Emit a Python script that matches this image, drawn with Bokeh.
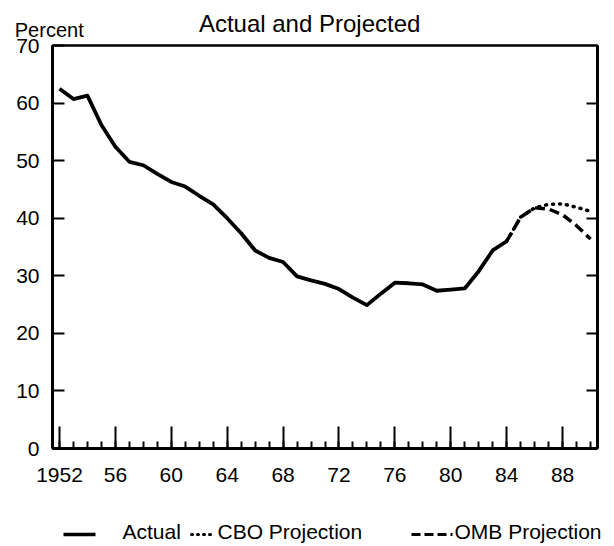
from bokeh.plotting import figure
from bokeh.models import Range1d, FixedTicker, LinearAxis, ColumnDataSource, Label
from bokeh.layouts import column
from bokeh.core.properties import value
from bokeh.embed import file_html
from bokeh.resources import INLINE

# ---------------- data ----------------
actual_years = list(range(1952, 1985))
actual_vals = [62.5, 60.7, 61.3, 56.2, 52.4, 49.8, 49.2, 47.7, 46.3, 45.5,
               43.9, 42.4, 40.0, 37.4, 34.4, 33.1, 32.4, 29.9, 29.2, 28.6,
               27.7, 26.2, 24.9, 26.9, 28.8, 28.7, 28.5, 27.4, 27.6, 27.8,
               30.8, 34.4, 36.0]
proj_years = list(range(1984, 1991))
cbo_vals = [36.0, 40.2, 41.8, 42.4, 42.5, 41.9, 41.2]
omb_vals = [36.0, 40.2, 41.8, 41.6, 40.6, 38.7, 36.4]

x_major = [1952, 1956, 1960, 1964, 1968, 1972, 1976, 1980, 1984, 1988]
x_labels = ["1952", "56", "60", "64", "68", "72", "76", "80", "84", "88"]
x_minor = list(range(1952, 1991))
y_ticks = [0, 10, 20, 30, 40, 50, 60, 70]
y_right_ticks = [10, 20, 30, 40, 50, 60]

title_text = "Actual and Projected"
unit_text = "Percent"
legend_names = ["Actual", "CBO Projection", "OMB Projection"]

FONT = "Liberation Sans"
W = 610
MAIN_H = 514
TOTAL_H = 544


def bare_axis(ticks):
    ax = LinearAxis(ticker=FixedTicker(ticks=ticks, minor_ticks=[]))
    ax.major_tick_out = 0
    ax.minor_tick_in = 0
    ax.minor_tick_out = 0
    ax.major_tick_line_width = 2
    ax.major_label_standoff = 0
    ax.major_label_text_font_size = "1px"
    ax.major_label_text_alpha = 0
    return ax


# ---------------- main figure ----------------
p = figure(width=W, height=MAIN_H, output_backend="svg", toolbar_location=None,
           x_range=Range1d(1951.5, 1990.5), y_range=Range1d(0, 70),
           min_border_left=52, min_border_right=13, min_border_top=45,
           min_border_bottom=MAIN_H - 448, x_axis_location=None,
           y_axis_location=None)
p.frame_align = False
p.grid.visible = False
p.outline_line_color = "black"
p.outline_line_width = 2

xa = LinearAxis(ticker=FixedTicker(ticks=x_major, minor_ticks=x_minor))
xa.major_label_overrides = {t: l for t, l in zip(x_major, x_labels)}
xa.major_tick_in = 22
xa.major_tick_out = 0
xa.minor_tick_in = 7
xa.minor_tick_out = 0
xa.major_tick_line_width = 2
xa.minor_tick_line_width = 2
xa.axis_line_width = 3
xa.major_label_standoff = 19
xa.major_label_text_font = FONT
xa.major_label_text_font_size = "21px"
xa.major_label_text_color = "black"
p.add_layout(xa, "below")

ya = LinearAxis(ticker=FixedTicker(ticks=y_ticks, minor_ticks=[]))
ya.major_tick_in = 12
ya.major_tick_out = 0
ya.minor_tick_in = 0
ya.minor_tick_out = 0
ya.major_tick_line_width = 2
ya.axis_line_width = 3
ya.major_label_standoff = 13
ya.major_label_text_font = FONT
ya.major_label_text_font_size = "21px"
ya.major_label_text_color = "black"
p.add_layout(ya, "left")

yr = bare_axis(y_right_ticks)
yr.major_tick_in = 11
yr.axis_line_width = 3
p.add_layout(yr, "right")

ta = bare_axis([])
ta.major_tick_in = 0
ta.axis_line_width = 2
p.add_layout(ta, "above")

src_a = ColumnDataSource(dict(x=actual_years, y=actual_vals))
src_p = ColumnDataSource(dict(x=proj_years, cbo=cbo_vals, omb=omb_vals))

p.line("x", "cbo", source=src_p, line_color="black", line_width=3.5,
       line_dash="1 6", line_cap="round")
p.line("x", "omb", source=src_p, line_color="black", line_width=3.5,
       line_dash="10 5")
p.line("x", "y", source=src_a, line_color="black", line_width=3.8,
       line_join="round")

# title and unit label live in side panels so they are not clipped to the frame
p.add_layout(Label(x=1969.9, y=73.8, text=title_text, text_font=FONT,
                   text_font_size="24px", text_align="center",
                   text_baseline="middle", text_color="black"), "above")
p.add_layout(Label(x=1948.8, y=72.75, text=unit_text, text_font=FONT,
                   text_font_size="20px", text_align="left",
                   text_baseline="middle", text_color="black"), "below")

# ---------------- legend strip ----------------
LG_H = TOTAL_H - MAIN_H
lg = figure(width=W, height=LG_H, output_backend="svg", toolbar_location=None,
            x_range=Range1d(0, W), y_range=Range1d(0, LG_H),
            min_border=0, x_axis_location=None, y_axis_location=None)
lg.frame_align = False
lg.grid.visible = False
lg.outline_line_color = None

line_y = 10
text_y = 13
lg.line([63, 95], [line_y, line_y], line_color="black", line_width=3.5)
lg.line([191, 214], [line_y, line_y], line_color="black", line_width=3,
        line_dash="1 5", line_cap="round")
lg.line([411, 452], [line_y, line_y], line_color="black", line_width=3,
        line_dash="9 4")
lg.text(x=[122, 217, 454], y=[text_y] * 3, text=legend_names,
        text_font=value(FONT), text_font_size=value("21px"),
        text_baseline="middle", text_align="left", text_color="black")

layout = column(p, lg, spacing=0)
open("out.html", "w").write(file_html(layout, INLINE))
